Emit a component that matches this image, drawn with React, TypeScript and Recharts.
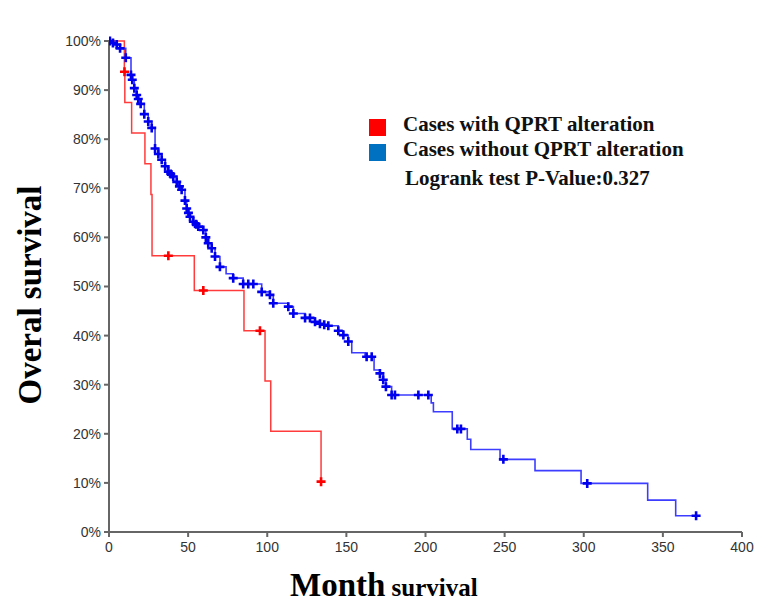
import React from "react";
import {
  ComposedChart,
  Line,
  Scatter,
  XAxis,
  YAxis,
} from "recharts";

// Kaplan-Meier steps (months, survival %)
const redT = [0, 9.7, 10.0, 14.3, 22.7, 26.5, 27.2, 53.9, 85.3, 98.6, 102.2, 134.0];
const redS = [100, 93.75, 87.5, 81.25, 75, 68.75, 56.25, 49.2, 41.0, 30.75, 20.5, 10.25];
const redCensorT = [9.8, 37.5, 59.6, 95.4, 134.0];
const redCensorS = [93.75, 56.25, 49.2, 41.0, 10.25];

const blueT = [
  0, 0.6, 2.5, 4.9, 7.0, 10.6, 13.9, 14.7, 16.0, 17.5, 18.5, 20.0, 22.3, 24.8,
  27.0, 29.1, 31.2, 33.3, 35.5, 37.5, 39.0, 40.6, 42.8, 44.5, 45.9, 48.0, 49.1,
  50.2, 51.2, 53.3, 55.0, 56.4, 59.6, 61.2, 62.7, 64.9, 67.0, 70.1, 74.0, 78.5,
  84.8, 88.0, 91.2, 96.5, 101.7, 103.8, 113.3, 116.5, 123.9, 127.0, 130.2, 133.3,
  136.0, 138.6, 144.9, 148.1, 151.2, 153.4, 161.8, 162.8, 166.0, 167.5, 171.2,
  173.3, 175.0, 178.6, 180.7, 195.5, 201.8, 203.6, 205.0, 216.9, 220.1, 222.4,
  226.4, 228.6, 247.1, 249.2, 269.2, 298.3, 302.2, 340.4, 358.1, 371.0,
];
const blueS = [
  100, 100, 99.6, 99.3, 98.5, 96.6, 93.1, 92.1, 90.4, 89.0, 88.2, 87.2, 85.1,
  83.6, 82.3, 78.1, 77.0, 75.8, 74.5, 73.4, 72.9, 72.4, 71.3, 70.4, 69.7, 67.5,
  65.9, 65.0, 64.2, 63.2, 62.7, 62.2, 61.5, 60.0, 58.8, 57.8, 56.1, 54.0, 52.6,
  51.7, 50.5, 50.5, 50.5, 48.9, 48.3, 46.6, 45.9, 44.5, 43.6, 43.6, 42.8, 42.4,
  42.2, 42.0, 41.0, 40.1, 38.8, 36.5, 35.7, 35.7, 35.7, 33.0, 32.3, 31.0, 29.6,
  27.9, 27.9, 27.9, 27.9, 26.3, 24.5, 21.0, 21.0, 21.0, 18.9, 16.8, 14.8, 14.8,
  12.5, 9.9, 9.9, 6.5, 3.3, 3.3,
];
const blueCensorT = [
  0.6, 2.5, 4.9, 7.0, 10.6, 13.9, 14.7, 16.0, 17.5, 18.5, 20.0, 22.3, 24.8, 27.0,
  29.1, 31.2, 33.3, 35.5, 37.5, 39.0, 40.6, 42.8, 44.5, 45.9, 48.0, 49.1, 50.2,
  51.2, 53.3, 55.0, 56.4, 59.6, 61.2, 62.7, 64.9, 67.0, 70.1, 78.5, 84.8, 88.0,
  91.2, 96.5, 101.7, 103.8, 113.3, 116.5, 123.9, 127.0, 130.2, 133.3, 136.0,
  138.6, 144.9, 148.1, 151.2, 162.8, 166.0, 171.2, 173.3, 175.0, 178.6, 180.7,
  195.5, 201.8, 220.1, 222.4, 249.2, 302.2, 371.0,
];
const blueCensorS = [
  100, 99.6, 99.3, 98.5, 96.6, 93.1, 92.1, 90.4, 89.0, 88.2, 87.2, 85.1, 83.6,
  82.3, 78.1, 77.0, 75.8, 74.5, 73.4, 72.9, 72.4, 71.3, 70.4, 69.7, 67.5, 65.9,
  65.0, 64.2, 63.2, 62.7, 62.2, 61.5, 60.0, 58.8, 57.8, 56.1, 54.0, 51.7, 50.5,
  50.5, 50.5, 48.9, 48.3, 46.6, 45.9, 44.5, 43.6, 43.6, 42.8, 42.4, 42.2, 42.0,
  41.0, 40.1, 38.8, 35.7, 35.7, 32.3, 31.0, 29.6, 27.9, 27.9, 27.9, 27.9, 21.0,
  21.0, 14.8, 9.9, 3.3,
];

const xTicks = [0, 50, 100, 150, 200, 250, 300, 350, 400];
const yTicks = [0, 10, 20, 30, 40, 50, 60, 70, 80, 90, 100];

const zip = (t: number[], s: number[]) => t.map((v, i) => ({ t: v, s: s[i] }));

const redLine = zip(redT, redS);
const redCensor = zip(redCensorT, redCensorS);
const blueLine = zip(blueT, blueS);
const blueCensor = zip(blueCensorT, blueCensorS);

const plus = (color: string) => (props: any) => {
  const { cx, cy } = props;
  if (cx == null || cy == null) return <g />;
  return (
    <path
      d={`M${cx - 4.5},${cy}H${cx + 4.5}M${cx},${cy - 4.5}V${cy + 4.5}`}
      stroke={color}
      strokeWidth={2.6}
      fill="none"
    />
  );
};

const serif = "'Liberation Serif', 'Times New Roman', serif";
const tickFont = { fill: "#333", fontSize: 14, fontFamily: "'Liberation Sans', Arial" };

export default function App() {
  return (
    <div
      style={{
        position: "absolute",
        left: 0,
        top: 0,
        width: 768,
        height: 605,
        background: "#fff",
      }}
    >
      <ComposedChart
        width={768}
        height={605}
        margin={{ top: 41, right: 26, bottom: 43, left: 49 }}
      >
        <XAxis
          type="number"
          dataKey="t"
          domain={[0, 400]}
          ticks={xTicks}
          allowDataOverflow
          stroke="#666"
          strokeWidth={2}
          tickSize={5}
          tickMargin={5}
          height={30}
          tick={tickFont}
        />
        <YAxis
          type="number"
          dataKey="s"
          domain={[0, 100]}
          ticks={yTicks}
          width={60}
          stroke="#666"
          strokeWidth={2}
          tickSize={5}
          tickMargin={3}
          tickFormatter={(v: number) => `${v}%`}
          tick={tickFont}
        />
        <Line
          data={redLine}
          dataKey="s"
          type="stepAfter"
          stroke="#ff3b3b"
          strokeWidth={1.5}
          dot={false}
          isAnimationActive={false}
        />
        <Line
          data={blueLine}
          dataKey="s"
          type="stepAfter"
          stroke="#3d3dff"
          strokeWidth={1.6}
          dot={false}
          isAnimationActive={false}
        />
        <Scatter
          data={redCensor}
          fill="#ff0000"
          shape={plus("#ff0000")}
          isAnimationActive={false}
        />
        <Scatter
          data={blueCensor}
          fill="#0000ee"
          shape={plus("#0000ee")}
          isAnimationActive={false}
        />
      </ComposedChart>

      {/* legend */}
      <div style={{ position: "absolute", left: 369, top: 119, width: 17, height: 17, background: "#ff0000" }} />
      <div style={{ position: "absolute", left: 369, top: 144, width: 17, height: 17, background: "#0070c0" }} />
      <div
        style={{
          position: "absolute",
          left: 403,
          top: 112,
          fontFamily: serif,
          fontWeight: "bold",
          fontSize: 21,
          lineHeight: "25px",
          color: "#111",
          whiteSpace: "nowrap",
        }}
      >
        <div>Cases with QPRT alteration</div>
        <div>Cases without QPRT alteration</div>
        <div style={{ paddingLeft: 2, marginTop: 4 }}>Logrank test P-Value:0.327</div>
      </div>

      {/* axis titles */}
      <div
        style={{
          position: "absolute",
          left: 30,
          top: 295,
          transform: "translate(-50%, -50%) rotate(-90deg)",
          fontFamily: serif,
          fontWeight: "bold",
          fontSize: 33,
          whiteSpace: "nowrap",
          color: "#000",
        }}
      >
        Overal survival
      </div>
      <div
        style={{
          position: "absolute",
          left: 290,
          top: 567,
          fontFamily: serif,
          fontWeight: "bold",
          whiteSpace: "nowrap",
          color: "#000",
        }}
      >
        <span style={{ fontSize: 33 }}>Month</span>
        <span style={{ fontSize: 25 }}> survival</span>
      </div>
    </div>
  );
}
